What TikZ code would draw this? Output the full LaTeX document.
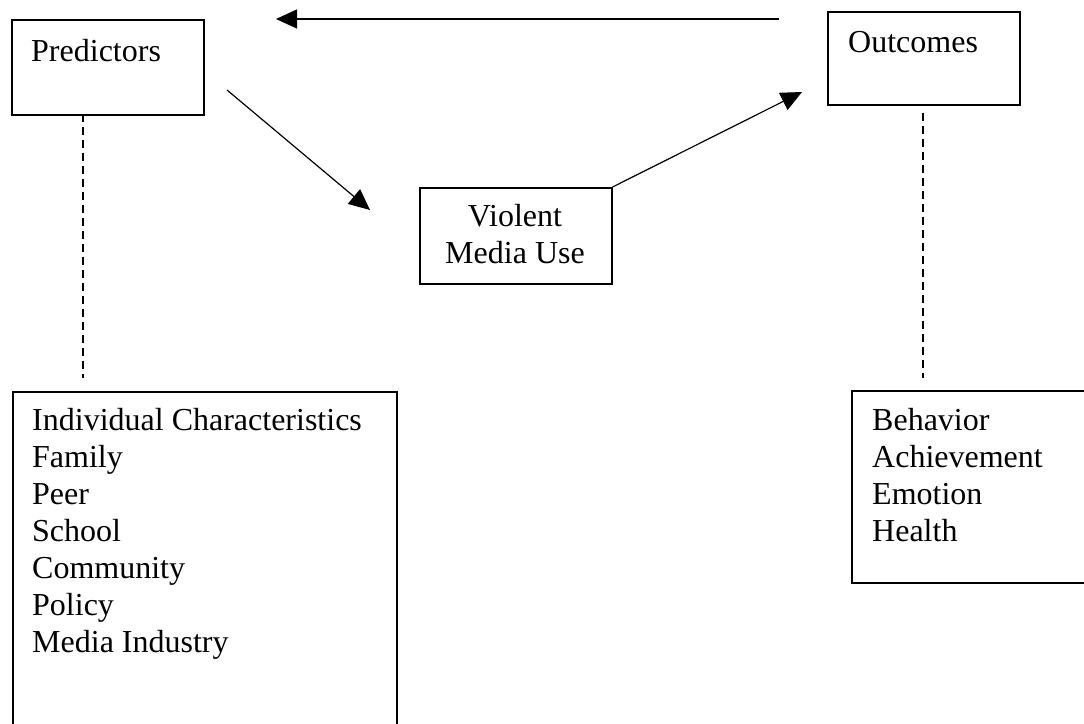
\documentclass[tikz,border=0pt]{standalone}
\usepackage{fontspec}
\setmainfont{Liberation Serif}
\usetikzlibrary{arrows.meta}
\begin{document}
\begin{tikzpicture}[x=1pt,y=-1pt,
  box/.style={draw=black, line width=1.6pt, inner sep=0pt, anchor=north west},
  lbl/.style={inner sep=0pt, anchor=base west, font=\fontsize{32}{37}\selectfont},
  clbl/.style={inner sep=0pt, anchor=base, font=\fontsize{32}{37}\selectfont},
  arr/.style={draw=black, line width=1.2pt, -{Triangle[length=21pt,width=19pt]}},
  dline/.style={draw=black, line width=1.5pt, dash pattern=on 8pt off 5pt}]
\useasboundingbox (0,0) rectangle (1084,723);
% boxes
\node[box, minimum width=192pt, minimum height=95pt] (pred) at (11,19) {};
\node[box, minimum width=192pt, minimum height=93pt] (outc) at (827,11) {};
\node[box, minimum width=192pt, minimum height=96pt] (viol) at (419,187) {};
\node[box, minimum width=384pt, minimum height=360pt] (indiv) at (12,391) {};
\node[box, minimum width=260pt, minimum height=192pt] (behav) at (851,390) {};
% texts
\node[lbl] (tpred) at (31,61) {Predictors};
\node[lbl] (toutc) at (848,52) {Outcomes};
\node[clbl] (tviol1) at (515,226) {Violent};
\node[clbl] (tviol2) at (515,263) {Media Use};
\node[lbl] (i1) at (32,430) {Individual Characteristics};
\node[lbl] (i2) at (32,467) {Family};
\node[lbl] (i3) at (32,504) {Peer};
\node[lbl] (i4) at (32,541) {School};
\node[lbl] (i5) at (32,578) {Community};
\node[lbl] (i6) at (32,615) {Policy};
\node[lbl] (i7) at (32,652) {Media Industry};
\node[lbl] (b1) at (872,430) {Behavior};
\node[lbl] (b2) at (872,467) {Achievement};
\node[lbl] (b3) at (872,504) {Emotion};
\node[lbl] (b4) at (872,541) {Health};
% connector ends
\coordinate (ta) at (779,19);
\coordinate (tb) at (276,19);
\coordinate (pa) at (227,90);
\coordinate (pb) at (370,210);
\coordinate (vb) at (802,92);
\coordinate (d1a) at (83,114);
\coordinate (d1b) at (83,378);
\coordinate (d2a) at (923,113);
\coordinate (d2b) at (923,378);
% connectors
\draw[arr] (ta) -- (tb);
\draw[arr] (pa) -- (pb);
\draw[arr] (viol.north east) -- (vb);
\draw[dline] (d1a) -- (d1b);
\draw[dline] (d2a) -- (d2b);
\end{tikzpicture}
\end{document}
